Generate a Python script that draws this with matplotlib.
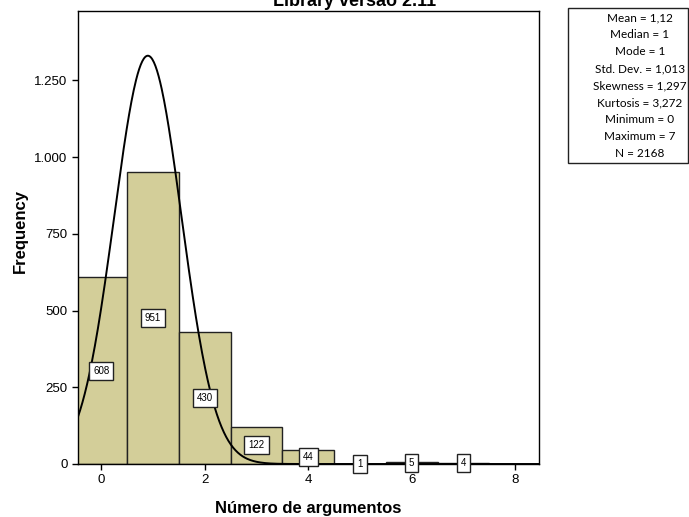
import matplotlib
matplotlib.use("Agg")
import matplotlib.pyplot as plt
from matplotlib.ticker import FuncFormatter
import numpy as np

# histogram of "Número de argumentos"
values = [0, 1, 2, 3, 4, 5, 6, 7]
counts = [608, 951, 430, 122, 44, 1, 5, 4]

stats_lines = ["Mean = 1,12", "Median = 1", "Mode = 1", "Std. Dev. = 1,013",
               "Skewness = 1,297", "Kurtosis = 3,272", "Minimum = 0",
               "Maximum = 7", "N = 2168"]

# normal curve as drawn in the picture
curve_n = 2168
curve_mu = 0.9
curve_sigma = 0.65

plt.rcParams['font.family'] = ['Liberation Sans', 'DejaVu Sans']

fig = plt.figure(figsize=(6.89, 5.17), dpi=100)
ax = fig.add_axes([78 / 689, 1 - 464 / 517, (539 - 78) / 689, (464 - 10.5) / 517])

ax.bar(values, counts, width=1.0, color='#d3ce99', edgecolor='#222222', linewidth=1.0, zorder=2)

xs = np.linspace(-0.5, 8.5, 600)
ys = curve_n / (curve_sigma * np.sqrt(2 * np.pi)) * np.exp(-(xs - curve_mu) ** 2 / (2 * curve_sigma ** 2))
ax.plot(xs, ys, color='black', linewidth=1.4, zorder=3)

for v, c in zip(values, counts):
    ax.text(v, c / 2, str(c), ha='center', va='center', fontsize=7, zorder=4,
            bbox=dict(boxstyle='square,pad=0.42', facecolor='white', edgecolor='#222222', linewidth=1.0))

ax.set_xlim(-0.45, 8.46)
ax.set_ylim(0, 1478)
ax.set_xticks([0, 2, 4, 6, 8])
ax.set_yticks([0, 250, 500, 750, 1000, 1250])
ax.yaxis.set_major_formatter(FuncFormatter(lambda v, p: f"{int(v):,}".replace(",", ".")))
ax.tick_params(direction='out', length=4, width=1, labelsize=9.5, colors='black')
for s in ax.spines.values():
    s.set_linewidth(1.0)

ax.set_xlabel("Número de argumentos", fontsize=12, fontweight='bold')
ax.xaxis.set_label_coords(0.5, -(501 - 464) / 453.5)
ax.set_ylabel("Frequency", fontsize=12, fontweight='bold')
ax.yaxis.set_label_coords(-(78 - 28) / 461, 0.514)

fig.text(355 / 689, 1 - 6 / 517, "Library versão 2.11", ha='center', va='baseline',
         fontsize=13, fontweight='bold')

# stats box
fig.patches.append(plt.Rectangle((568 / 689, 1 - 163 / 517), 120 / 689, 155 / 517,
                                 transform=fig.transFigure, facecolor='white',
                                 edgecolor='#222222', linewidth=1.0))
for i, line in enumerate(stats_lines):
    fig.text(640 / 689, 1 - (18 + i * 16.9) / 517, line, ha='center', va='center',
             fontsize=8.5, family=['Lato', 'DejaVu Sans'])

fig.savefig("out.png", dpi=100)
